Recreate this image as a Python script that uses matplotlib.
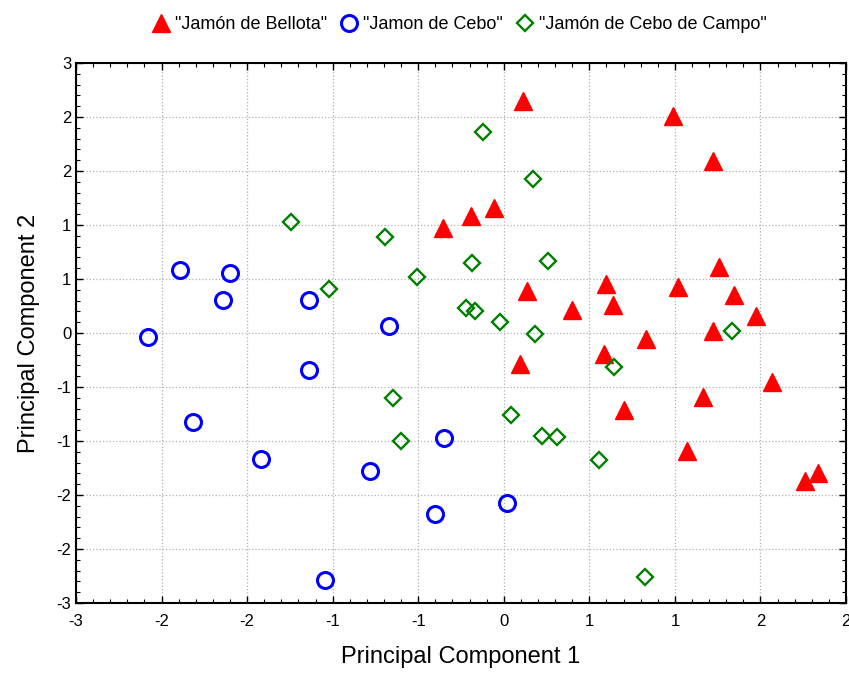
import matplotlib
matplotlib.use("Agg")
import matplotlib.pyplot as plt
from matplotlib.ticker import MultipleLocator, AutoMinorLocator, FuncFormatter

plt.rcParams['font.family'] = ['Liberation Sans', 'DejaVu Sans']

# Series data (PC1, PC2)
bellota_x = [0.136, 1.188, 1.469, -0.426, -0.232, -0.070, 1.511, 0.160, 0.714, 1.223,
             1.616, 0.479, 0.763, 1.766, 0.996, 1.469, 0.702, 0.112, 0.842, 1.399,
             1.883, 1.282, 2.112, 2.206]
bellota_y = [2.581, 2.414, 1.914, 1.163, 1.303, 1.386, 0.737, 0.463, 0.544, 0.511,
             0.426, 0.256, 0.314, 0.185, -0.067, 0.026, -0.233, -0.344, -0.852, -0.714,
             -0.541, -1.314, -1.648, -1.556]

cebo_x = [-2.274, -1.923, -1.970, -1.366, -0.805, -2.496, -1.366, -2.180, -1.705, -0.421,
          -0.935, -0.484, -1.256, 0.026]
cebo_y = [0.703, 0.667, 0.370, 0.370, 0.081, -0.039, -0.408, -0.992, -1.400, -1.170,
          -1.537, -2.011, -2.748, -1.889]

campo_x = [-1.489, -0.835, -1.226, -0.612, -0.149, 0.202, -0.222, 0.311, -0.262, -0.204,
           -0.023, 0.222, 1.598, 0.773, -0.777, 0.054, -0.718, 0.265, 0.370, 0.667, 0.989]
campo_y = [1.237, 1.063, 0.489, 0.619, 2.237, 1.711, 0.778, 0.803, 0.274, 0.248,
           0.126, -0.006, 0.017, -0.374, -0.72, -0.908, -1.203, -1.141, -1.156, -1.411, -2.708]

labels = ['"Jamón de Bellota"', '"Jamon de Cebo"', '"Jamón de Cebo de Campo"']
x_label = "Principal Component 1"
y_label = "Principal Component 2"
x_range = (-3.0, 2.4)
y_range = (-3.0, 3.0)
tick_step = 0.6

W, H = 849, 675
fig = plt.figure(figsize=(W / 100, H / 100), dpi=100)
ax = fig.add_axes([76 / W, 1 - 603 / H, (846 - 76) / W, (603 - 63) / H])

ax.plot(bellota_x, bellota_y, linestyle='none', marker='^', markersize=12.5,
        color='#ff0000', markeredgecolor='#ff0000', label=labels[0], zorder=3)
ax.plot(cebo_x, cebo_y, linestyle='none', marker='o', markersize=11.5,
        markerfacecolor='none', markeredgecolor='#0000ff', markeredgewidth=2.2,
        label=labels[1], zorder=3)
ax.plot(campo_x, campo_y, linestyle='none', marker='D', markersize=8.2,
        markerfacecolor='none', markeredgecolor='#008000', markeredgewidth=1.7,
        label=labels[2], zorder=3)

ax.set_xlim(*x_range)
ax.set_ylim(*y_range)
fmt = FuncFormatter(lambda v, p: f"{round(v) + 0:.0f}")
for axis in (ax.xaxis, ax.yaxis):
    axis.set_major_locator(MultipleLocator(tick_step))
    axis.set_minor_locator(AutoMinorLocator(5))
    axis.set_major_formatter(fmt)

ax.tick_params(which='both', direction='in', top=True, right=True, colors='black',
               labelsize=12)
ax.tick_params(which='major', length=5, width=1)
ax.tick_params(which='minor', length=3, width=0.8)
ax.tick_params(axis='x', pad=8)
ax.grid(True, which='major', linestyle=':', color='#b0b0b0', linewidth=0.9)
for s in ax.spines.values():
    s.set_linewidth(1.5)
    s.set_color('black')

ax.set_xlabel(x_label, fontsize=17, labelpad=12)
ax.set_ylabel(y_label, fontsize=17, labelpad=12)

fig.legend(loc='upper center', bbox_to_anchor=(0.54, 0.995), ncol=3, frameon=False,
           fontsize=13, handletextpad=0.2, columnspacing=0.6, handlelength=1.2,
           borderaxespad=0.3)

fig.savefig("out.png", dpi=100)
